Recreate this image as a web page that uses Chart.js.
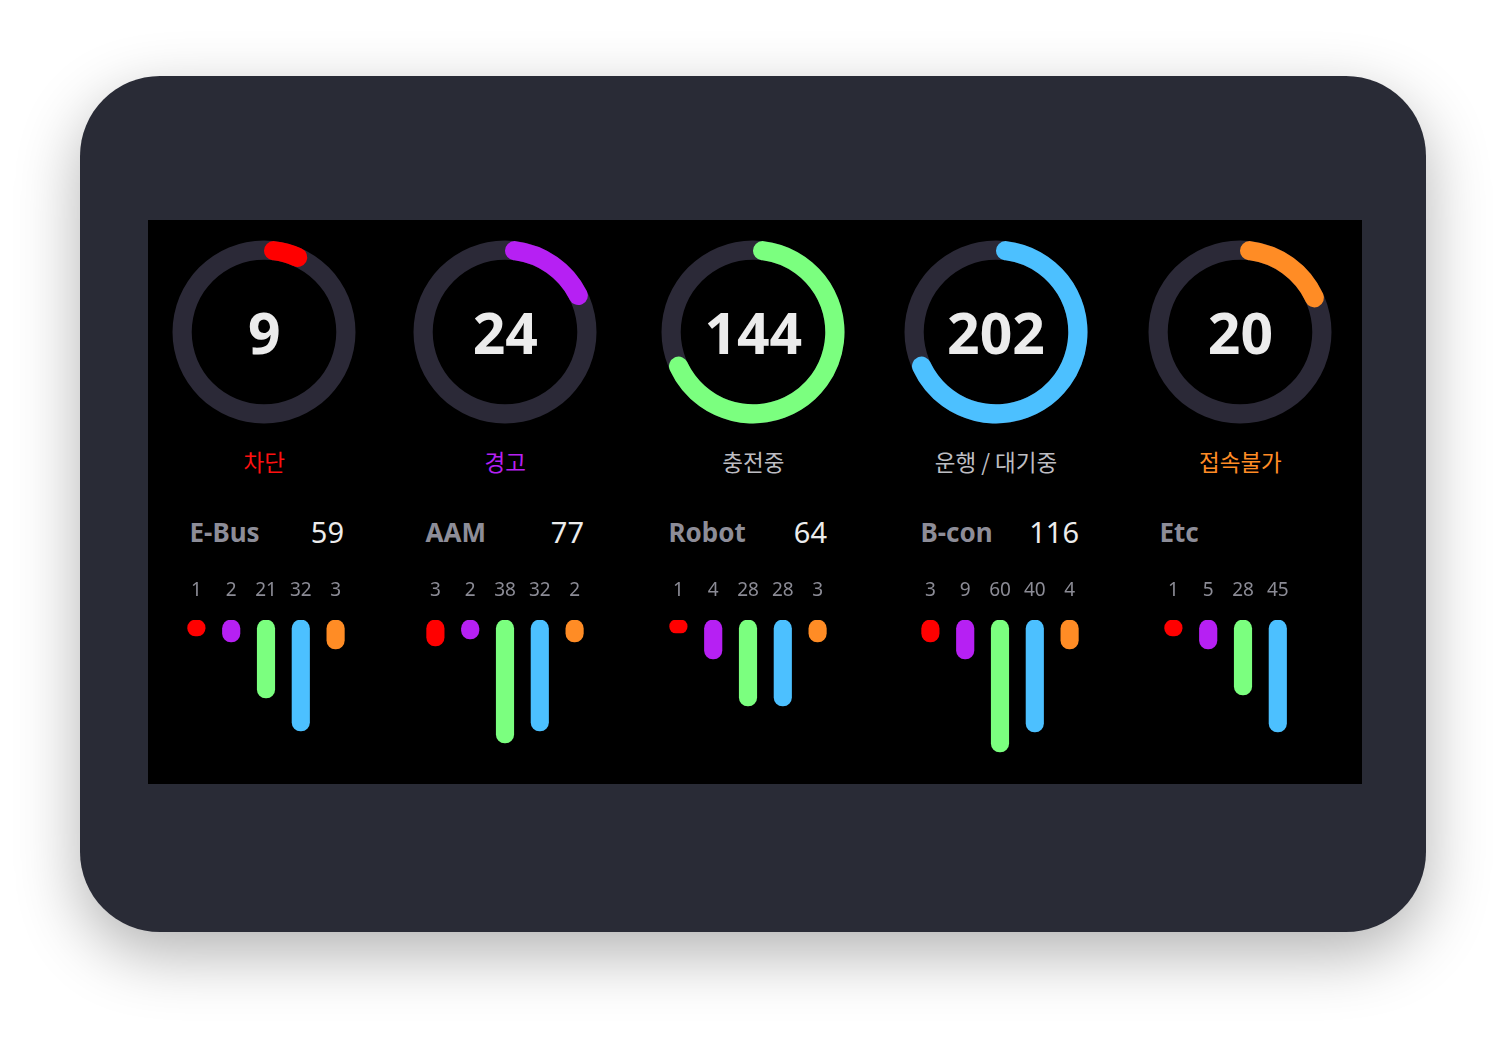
<!DOCTYPE html>
<html>
<head>
<meta charset="utf-8">
<script src="https://cdn.jsdelivr.net/npm/chart.js@4.4.1/dist/chart.umd.min.js"></script>
<style>
  html, body { margin:0; padding:0; width:1500px; height:1046px; overflow:hidden; background:#ffffff;
    font-family:"Noto Sans","Noto Sans CJK KR",sans-serif; }
  #card { position:absolute; left:80px; top:76px; width:1346px; height:856px; border-radius:80px;
    background:#292b36; box-shadow:0 22px 64px rgba(0,0,0,0.30); }
  #panel { position:absolute; left:148px; top:220px; width:1214px; height:564px; background:#000; }
  .abs { position:absolute; white-space:nowrap; line-height:1; }
  .center-num { font-weight:700; font-size:57px; color:#ececec; text-align:center; width:200px; }
  .status { font-family:"Noto Sans CJK KR","Noto Sans",sans-serif; font-size:22.5px; text-align:center; width:240px; }
  .gname { font-weight:700; font-size:26px; color:#8d8d98; }
  .gtotal { font-size:29px; color:#ececec; text-align:right; width:90px; }
  canvas { position:absolute; }
</style>
</head>
<body>
<div id="card"></div>
<div id="panel"></div>
<div id="root"></div>
<script>
// ---------- data ----------
const statusLabels = ['차단', '경고', '충전중', '운행 / 대기중', '접속불가'];
const statusCounts = [9, 24, 144, 202, 20];
const statusRingPercent = [8.6, 19.5, 70, 70, 20];

const groupNames = ['E-Bus', 'AAM', 'Robot', 'B-con', 'Etc'];
const groupTotals = [59, 77, 64, 116, null];

const ebusCounts  = [1, 2, 21, 32, 3];
const aamCounts   = [3, 2, 38, 32, 2];
const robotCounts = [1, 4, 28, 28, 3];
const bconCounts  = [3, 9, 60, 40, 4];
const etcCounts   = [1, 5, 28, 45, null];

// bar lengths as drawn in the picture (relative level, 0-140)
const ebusLevels  = [16, 22, 78, 111, 29];
const aamLevels   = [26, 19, 123, 111, 22];
const robotLevels = [13, 39, 86, 86, 22];
const bconLevels  = [22, 39, 132, 112, 29];
const etcLevels   = [16, 29, 75, 112, null];

const groupCounts = [ebusCounts, aamCounts, robotCounts, bconCounts, etcCounts];
const groupLevels = [ebusLevels, aamLevels, robotLevels, bconLevels, etcLevels];

// ---------- style / layout ----------
const statusColors = ['#ff0000', '#b620f3', '#7bff7f', '#4cc0ff', '#ff8c25'];
const labelColors  = ['#ff1010', '#b620f3', '#bdbdc2', '#bdbdc2', '#ff8c25'];
const trackColor = '#2b2937';
const donutCX = [264.3, 505.3, 753.3, 996, 1240.4];
const donutCY = 332;
const blockCX = [265.9, 505.4, 747.9, 1000.4, 1243];
const nameLeft = [189.5, 425.5, 668.5, 920.5, 1159.5];
const totalRight = [344, 584, 827, 1079, null];

const root = document.getElementById('root');
function addDiv(cls, text, left, top, color) {
  const d = document.createElement('div');
  d.className = 'abs ' + cls;
  d.textContent = text;
  d.style.left = left + 'px';
  d.style.top = top + 'px';
  if (color) d.style.color = color;
  root.appendChild(d);
  return d;
}
function addCanvas(left, top, w, h) {
  const c = document.createElement('canvas');
  c.width = w; c.height = h;
  c.style.left = left + 'px'; c.style.top = top + 'px';
  c.style.width = w + 'px'; c.style.height = h + 'px';
  root.appendChild(c);
  return c;
}

const trackPlugin = {
  id: 'track',
  beforeDatasetsDraw(chart) {
    const arc = chart.getDatasetMeta(0).data[0];
    if (!arc) return;
    const p = arc.getProps(['x', 'y', 'innerRadius', 'outerRadius'], true);
    const ctx = chart.ctx;
    ctx.save();
    ctx.beginPath();
    ctx.arc(p.x, p.y, p.outerRadius, 0, Math.PI * 2);
    ctx.arc(p.x, p.y, p.innerRadius, 0, Math.PI * 2, true);
    ctx.fillStyle = trackColor;
    ctx.fill();
    ctx.restore();
  }
};

// donuts
statusLabels.forEach((lab, i) => {
  const size = 200;
  const cv = addCanvas(Math.round(donutCX[i] - size / 2), donutCY - size / 2, size, size);
  new Chart(cv, {
    type: 'doughnut',
    data: {
      labels: [lab, ''],
      datasets: [{
        data: [statusRingPercent[i], 100 - statusRingPercent[i]],
        backgroundColor: [statusColors[i], 'rgba(0,0,0,0)'],
        borderWidth: 0,
        borderRadius: [10, 0]
      }]
    },
    options: {
      responsive: false, animation: false, events: [],
      radius: 91.5, cutout: '79%',
      plugins: { legend: { display: false }, tooltip: { enabled: false } }
    },
    plugins: [trackPlugin]
  });
  addDiv('center-num', String(statusCounts[i]), donutCX[i] - 100, 304);
  addDiv('status', lab, donutCX[i] - 120, 450, labelColors[i]);
});

// group blocks
groupNames.forEach((name, g) => {
  addDiv('gname', name, nameLeft[g], 519.2);
  if (groupTotals[g] != null) addDiv('gtotal', String(groupTotals[g]), totalRight[g] - 90, 516.5);

  const w = 174, h = 190;
  const cv = addCanvas(Math.round(blockCX[g] - w / 2), 570, w, h);
  new Chart(cv, {
    type: 'bar',
    data: {
      labels: groupCounts[g].map(v => v == null ? '' : String(v)),
      datasets: [{
        data: groupLevels[g],
        backgroundColor: statusColors,
        borderWidth: 0,
        borderRadius: 9,
        borderSkipped: false,
        barThickness: 17.5
      }]
    },
    options: {
      responsive: false, animation: false, events: [],
      layout: { padding: 0 },
      plugins: { legend: { display: false }, tooltip: { enabled: false } },
      scales: {
        x: {
          position: 'top',
          grid: { display: false, drawTicks: false },
          border: { display: false },
          ticks: { color: '#8b8b95', font: { family: '"Noto Sans"', size: 19 }, padding: 18, maxRotation: 0, autoSkip: false },
          afterFit(s) { s.height = 50; s.paddingLeft = 0; s.paddingRight = 0; }
        },
        y: { display: false, reverse: true, min: 0, max: 140 }
      }
    }
  });
});
</script>
</body>
</html>
